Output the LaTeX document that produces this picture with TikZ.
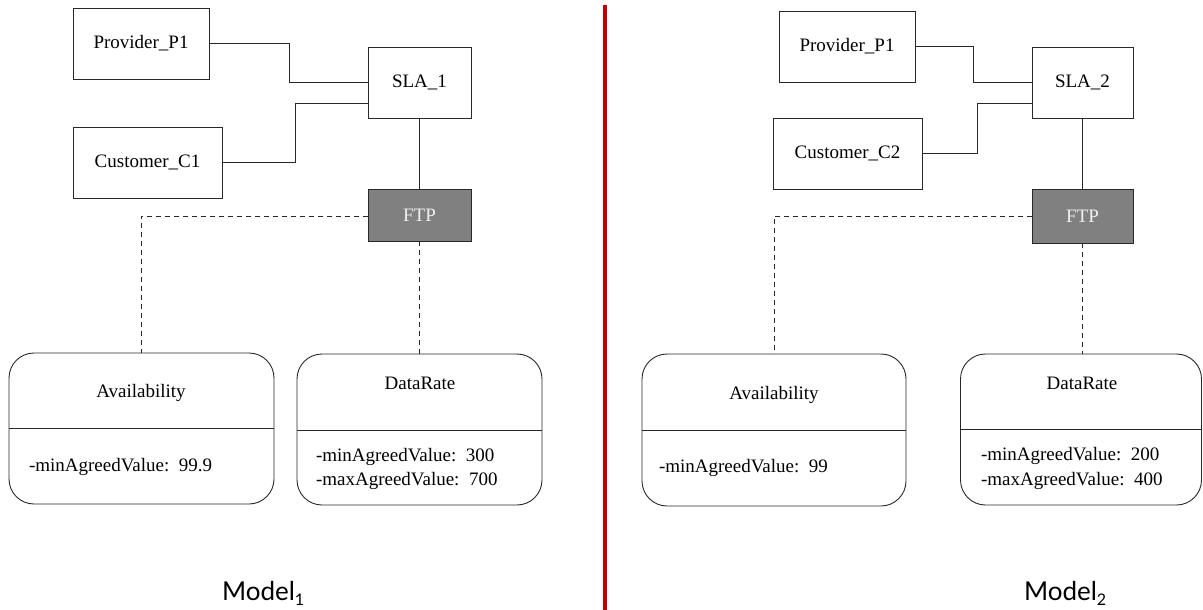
\documentclass[tikz,border=0pt]{standalone}
\usepackage{fontspec}
\setmainfont{Liberation Serif}
\newfontfamily\serfont{Liberation Serif}
\newfontfamily\modelfont{Lato}
\definecolor{ln}{RGB}{40,40,40}
\definecolor{ftpfill}{RGB}{128,128,128}
\definecolor{ftptext}{RGB}{240,240,240}
\definecolor{redline}{RGB}{192,0,0}
\newcommand{\modsub}[1]{\raisebox{-0.22em}{\fontsize{16}{16}\selectfont #1}}
\begin{document}
\begin{tikzpicture}[x=1pt,y=-1pt,
  every node/.style={inner sep=0pt, outer sep=0pt},
  txt/.style={font=\serfont\fontsize{19}{23}\selectfont},
  ebox/.style={draw=ln, line width=0.9pt, fill=white, txt},
  ftpbox/.style={draw=ln, line width=0.9pt, fill=ftpfill, text=ftptext, txt},
  clsbox/.style={draw=ln, line width=0.9pt, rounded corners=25pt},
  conn/.style={draw=ln, line width=0.9pt},
  dconn/.style={draw=ln, line width=0.9pt, dash pattern=on 5pt off 4pt},
  modellbl/.style={font=\modelfont\fontsize{26}{30}\selectfont, anchor=base west}
]
\useasboundingbox (0,0) rectangle (1203,610);

% ---------------- Model 1 ----------------
\node[ebox, minimum width=136pt, minimum height=71pt] (p1L) at (141,43.5) {Provider\_P1};
\node[ebox, minimum width=103pt, minimum height=71pt] (slaL) at (419.5,82.5) {SLA\_1};
\node[ebox, minimum width=149pt, minimum height=71pt] (c1L) at (147.5,162.5) {Customer\_C1};
\node[ftpbox, minimum width=103pt, minimum height=52pt] (ftpL) at (419.5,215) {FTP};

\node[clsbox, minimum width=265pt, minimum height=151pt] (avL) at (141.5,428.5) {};
\node[clsbox, minimum width=245pt, minimum height=151pt] (drL) at (419.5,429.5) {};

\coordinate (pbL) at (289,82.5);
\coordinate (cbL) at (295,103);
\draw[conn] (p1L.east) -| (pbL) -- (slaL.west |- pbL);
\draw[conn] (c1L.east) -| (cbL) -- (slaL.west |- cbL);
\draw[conn] (slaL.south) -- (ftpL.north);
\coordinate (dkL) at (141,216);
\draw[dconn] (ftpL.west |- dkL) -- (dkL) -- (dkL |- avL.north);
\draw[dconn] (ftpL.south) -- (drL.north);

\draw[conn] (avL.west |- 0,428) -- (avL.east |- 0,428);
\draw[conn] (drL.west |- 0,430) -- (drL.east |- 0,430);

\node[txt] (avLt) at (141,393) {Availability};
\node[txt, anchor=west] (avLa) at (29,467) {-minAgreedValue:\ \ 99.9};
\node[txt] (drLt) at (420,383) {DataRate};
\node[txt, anchor=west] (drLa) at (316,457) {-minAgreedValue:\ \ 300};
\node[txt, anchor=west] (drLb) at (316,481) {-maxAgreedValue:\ \ 700};

\node[modellbl] (m1) at (222,600) {Model\modsub{1}};

% ---------------- separator ----------------
\coordinate (sepT) at (605,5);
\coordinate (sepB) at (605,610);
\draw[redline, line width=3.5pt] (sepT) -- (sepB);

% ---------------- Model 2 ----------------
\node[ebox, minimum width=136pt, minimum height=71pt] (p1R) at (847,46.5) {Provider\_P1};
\node[ebox, minimum width=101pt, minimum height=71pt] (slaR) at (1082.5,82.5) {SLA\_2};
\node[ebox, minimum width=149pt, minimum height=71pt] (c2R) at (847.5,153.5) {Customer\_C2};
\node[ftpbox, minimum width=101pt, minimum height=54pt] (ftpR) at (1082.5,216) {FTP};

\node[clsbox, minimum width=264pt, minimum height=152pt] (avR) at (774,430) {};
\node[clsbox, minimum width=241pt, minimum height=151pt] (drR) at (1081,429.5) {};

\coordinate (pbR) at (973,82.5);
\coordinate (cbR) at (977,103);
\draw[conn] (p1R.east) -| (pbR) -- (slaR.west |- pbR);
\draw[conn] (c2R.east) -| (cbR) -- (slaR.west |- cbR);
\draw[conn] (slaR.south) -- (ftpR.north);
\coordinate (dkR) at (774,216);
\draw[dconn] (ftpR.west |- dkR) -- (dkR) -- (dkR |- avR.north);
\draw[dconn] (ftpR.south) -- (ftpR.south |- drR.north);

\draw[conn] (avR.west |- 0,430) -- (avR.east |- 0,430);
\draw[conn] (drR.west |- 0,429) -- (drR.east |- 0,429);

\node[txt] (avRt) at (774,395) {Availability};
\node[txt, anchor=west] (avRa) at (659,468) {-minAgreedValue:\ \ 99};
\node[txt] (drRt) at (1082,383) {DataRate};
\node[txt, anchor=west] (drRa) at (981,456) {-minAgreedValue:\ \ 200};
\node[txt, anchor=west] (drRb) at (981,481) {-maxAgreedValue:\ \ 400};

\node[modellbl] (m2) at (1024,600) {Model\modsub{2}};
\end{tikzpicture}
\end{document}
